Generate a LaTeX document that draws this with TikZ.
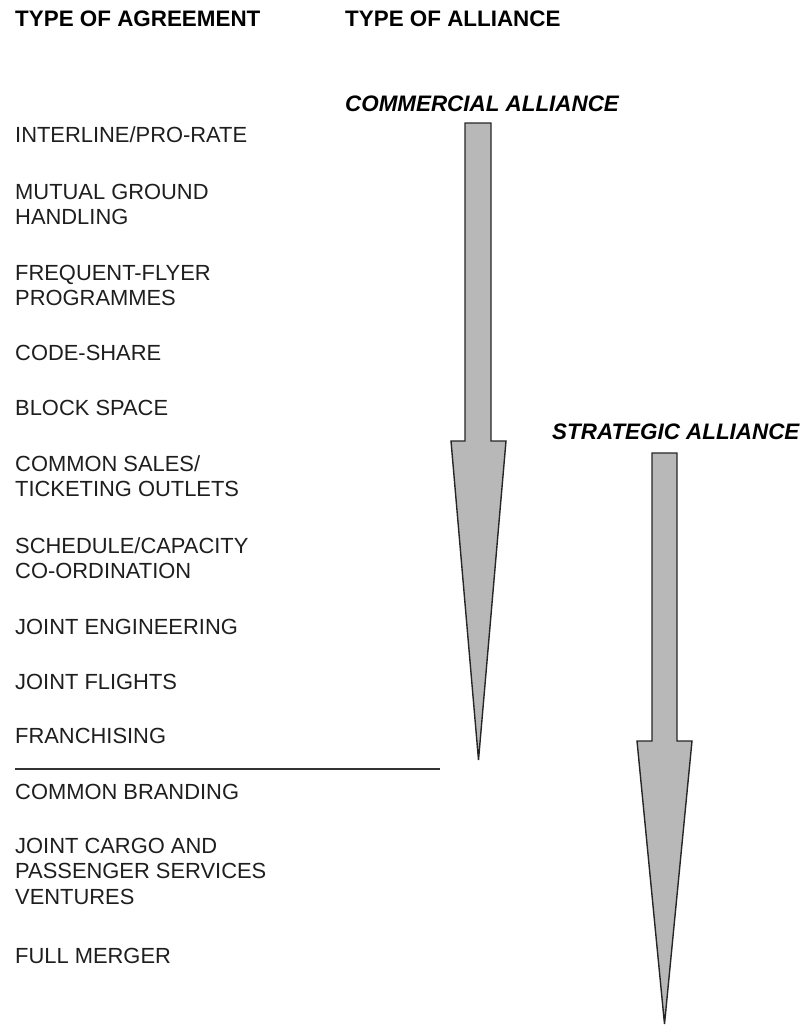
\documentclass[tikz,border=0pt]{standalone}
\usepackage{fontspec}
\setmainfont{Liberation Sans}
\definecolor{arrowfill}{RGB}{184,184,184}
\definecolor{textcol}{RGB}{30,30,30}
\begin{document}
\begin{tikzpicture}[x=1pt,y=-1pt,
  item/.style={anchor=base west,inner sep=0pt,text=textcol,font=\fontsize{21.9}{25.5}\selectfont},
  head/.style={anchor=base west,inner sep=0pt,text=black,font=\fontsize{22.4}{25.5}\selectfont\bfseries},
  alli/.style={anchor=base west,inner sep=0pt,text=black,font=\fontsize{22.4}{25.5}\selectfont\bfseries\itshape},
  bigarrow/.style={draw=black!85,line width=1.4pt,fill=arrowfill,line join=miter},
  sepline/.style={draw=black!80,line width=1.6pt}]
\useasboundingbox (0,0) rectangle (801,1028);
\newcommand{\lines}[1]{\begin{tabular}[t]{@{}l@{}}#1\end{tabular}}
% headings
\node[head] (hagr) at (15,26) {TYPE OF AGREEMENT};
\node[head] (hall) at (345,26) {TYPE OF ALLIANCE};
\node[alli] (comm) at (345,111) {COMMERCIAL ALLIANCE};
\node[alli] (strat) at (552,439) {STRATEGIC ALLIANCE};
% agreements
\node[item] (a1) at (15,142) {INTERLINE/PRO-RATE};
\node[item] (a2) at (15,199) {\lines{MUTUAL GROUND\\HANDLING}};
\node[item] (a3) at (15,280) {\lines{FREQUENT-FLYER\\PROGRAMMES}};
\node[item] (a4) at (15,360) {CODE-SHARE};
\node[item] (a5) at (15,415) {BLOCK SPACE};
\node[item] (a6) at (15,471) {\lines{COMMON SALES/\\TICKETING OUTLETS}};
\node[item] (a7) at (15,553) {\lines{SCHEDULE/CAPACITY\\CO-ORDINATION}};
\node[item] (a8) at (15,634) {JOINT ENGINEERING};
\node[item] (a9) at (15,689) {JOINT FLIGHTS};
\node[item] (a10) at (15,743) {FRANCHISING};
\node[item] (a11) at (15,799) {COMMON BRANDING};
\node[item] (a12) at (15,853) {\lines{JOINT CARGO AND\\PASSENGER SERVICES\\VENTURES}};
\node[item] (a13) at (15,963) {FULL MERGER};
% separator
\coordinate (sepL) at (15,769);
\coordinate (sepR) at (440,769);
\draw[sepline] (sepL) -- (sepR);
% commercial arrow
\draw[bigarrow] (465,123) -- (491,123) -- (491,441) -- (506,441) -- (478.5,760)
  -- (451,441) -- (465,441) -- cycle;
% strategic arrow
\draw[bigarrow] (652,453) -- (677,453) -- (677,741) -- (692,741) -- (664.5,1024)
  -- (637,741) -- (652,741) -- cycle;
\end{tikzpicture}
\end{document}
